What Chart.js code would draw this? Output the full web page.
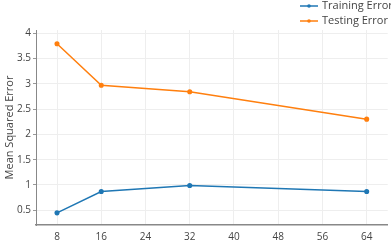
<!DOCTYPE html>
<html>
<head>
<meta charset="utf-8">
<script src="https://cdn.jsdelivr.net/npm/chart.js@4"></script>
<style>
  html, body { margin: 0; padding: 0; background: #fff; }
  #wrap { width: 391px; height: 249px; }
</style>
</head>
<body>
<div id="wrap"><canvas id="myChart" width="391" height="249"></canvas></div>
<script>
// values
const sizes = [8, 16, 32, 64];
const trainingError = [0.45, 0.87, 0.99, 0.87];
const testingError = [3.79, 2.97, 2.84, 2.30];
const xTicks = [8, 16, 24, 32, 40, 48, 56, 64];
const yTicks = [0.5, 1, 1.5, 2, 2.5, 3, 3.5, 4];

const FONT = "'Open Sans', sans-serif";
const TEXT = '#444';

// legend drawn top right, stacked like the original
const stackedLegend = {
    id: 'stackedLegend',
    afterDraw(chart) {
        const c = chart.ctx;
        c.save();
        c.font = "11px " + FONT;
        c.textBaseline = 'middle';
        chart.data.datasets.forEach((ds, i) => {
            const y = 6 + i * 15;
            c.strokeStyle = ds.borderColor;
            c.lineWidth = 1.5;
            c.beginPath();
            c.moveTo(300, y);
            c.lineTo(318, y);
            c.stroke();
            c.fillStyle = ds.borderColor;
            c.beginPath();
            c.arc(309, y, 1.8, 0, Math.PI * 2);
            c.fill();
            c.fillStyle = TEXT;
            c.fillText(ds.label, 322, y);
        });
        c.restore();
    }
};

const ctx = document.getElementById('myChart').getContext('2d');

const config = {
    type: 'line',
    data: {
        datasets: [{
            label: 'Training Error',
            data: sizes.map((x, i) => ({ x: x, y: trainingError[i] })),
            borderColor: '#1f77b4',
            backgroundColor: '#1f77b4',
            borderWidth: 1.5,
            pointRadius: 1.8,
            pointHoverRadius: 1.8
        }, {
            label: 'Testing Error',
            data: sizes.map((x, i) => ({ x: x, y: testingError[i] })),
            borderColor: '#ff7f0e',
            backgroundColor: '#ff7f0e',
            borderWidth: 1.5,
            pointRadius: 1.8,
            pointHoverRadius: 1.8
        }]
    },
    options: {
        responsive: false,
        animation: false,
        layout: { padding: { top: 30, right: 3, left: 0, bottom: 0 } },
        plugins: {
            legend: { display: false },
            tooltip: { enabled: false }
        },
        scales: {
            x: {
                type: 'linear',
                min: 4.2,
                max: 67.8,
                afterBuildTicks: s => { s.ticks = xTicks.map(v => ({ value: v })); },
                afterFit: s => { s.height = 24; },
                grid: { color: '#eee', drawTicks: false },
                border: { color: '#888', width: 1.5 },
                ticks: { color: TEXT, font: { family: FONT, size: 10 }, padding: 6 }
            },
            y: {
                min: 0.21,
                max: 4.06,
                afterBuildTicks: s => { s.ticks = yTicks.map(v => ({ value: v })); },
                afterFit: s => { s.width = 36; },
                grid: { color: '#eee', tickLength: 3, tickColor: '#999' },
                border: { color: '#888', width: 1 },
                ticks: {
                    color: TEXT,
                    font: { family: FONT, size: 10 },
                    padding: 2,
                    callback: v => String(v)
                },
                title: {
                    display: true,
                    text: 'Mean Squared Error',
                    color: TEXT,
                    font: { family: FONT, size: 11 },
                    padding: { top: 3, bottom: 0 }
                }
            }
        }
    },
    plugins: [stackedLegend]
};

const myChart = new Chart(ctx, config);
</script>
</body>
</html>
